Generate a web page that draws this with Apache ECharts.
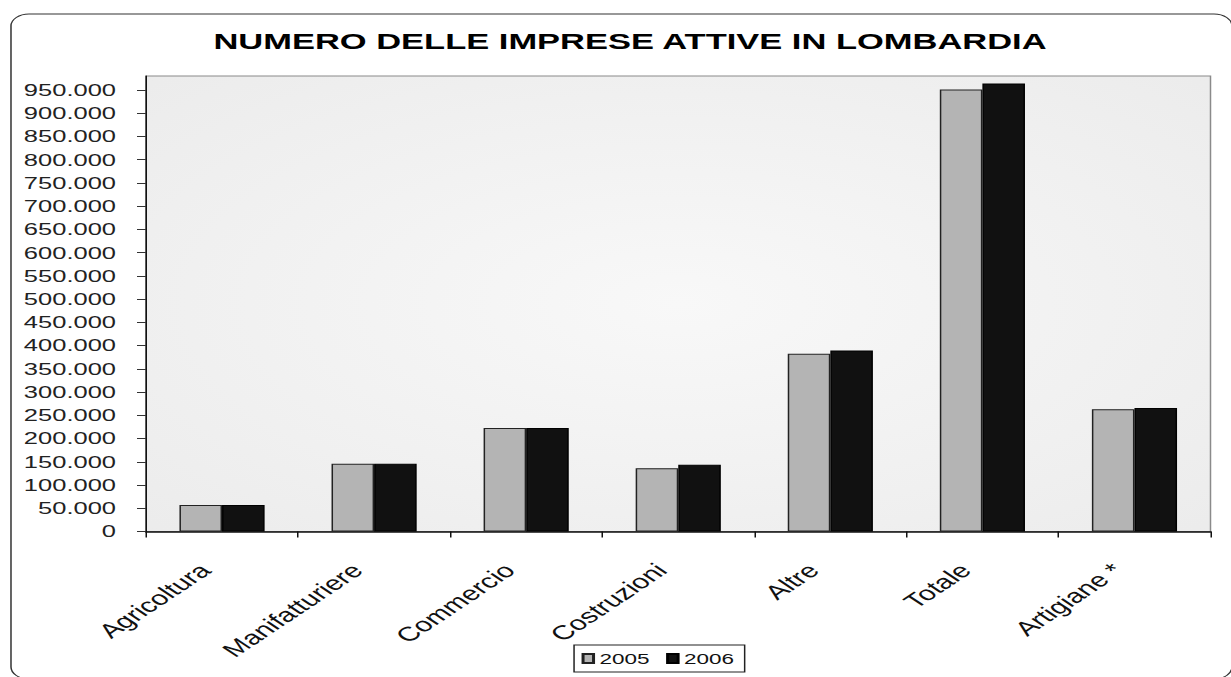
<!DOCTYPE html>
<html>
<head>
<meta charset="utf-8">
<script src="https://cdn.jsdelivr.net/npm/echarts@6/dist/echarts.min.js"></script>
<style>
  html, body { margin: 0; padding: 0; background: #fff; overflow: hidden; }
  /* the chart is laid out on a narrower canvas and widened horizontally */
  #wrap { width: 1231px; height: 677px; overflow: hidden; }
  #chart { width: 820.67px; height: 677px; transform: scaleX(1.5); transform-origin: 0 0; }
</style>
</head>
<body>
<div id="wrap"><div id="chart"></div></div>
<script>
// Imprese attive per settore
const categories = ['Agricoltura', 'Manifatturiere', 'Commercio', 'Costruzioni', 'Altre', 'Totale', 'Artigiane *'];
const values2005 = [57000, 146000, 222500, 136000, 382500, 951000, 263000];
const values2006 = [57000, 146000, 222500, 143500, 389500, 964000, 265500];
const seriesNames = ['2005', '2006'];
const titleText = 'NUMERO DELLE IMPRESE ATTIVE IN LOMBARDIA';

const FONT = '"Liberation Sans", Arial, sans-serif';

function itNumber(v) {
  const s = String(Math.round(v));
  return s.replace(/\B(?=(\d{3})+(?!\d))/g, '.');
}

const chart = echarts.init(document.getElementById('chart'), null, { renderer: 'svg' });

chart.setOption({
  animation: false,
  backgroundColor: '#ffffff',
  title: {
    text: titleText,
    left: 415,
    top: 24,
    textAlign: 'center',
    textStyle: { fontFamily: FONT, fontSize: 23, fontWeight: 'bold', color: '#000' }
  },
  graphic: [{
    type: 'rect',
    shape: { x: 7.33, y: 14, width: 814, height: 665, r: 12 },
    style: { fill: 'none', stroke: '#333', lineWidth: 1 },
    silent: true
  }],
  legend: {
    data: seriesNames,
    left: 382.7,
    top: 645,
    orient: 'horizontal',
    padding: [6, 7, 6, 5],
    itemGap: 11,
    itemWidth: 7,
    itemHeight: 9,
    icon: 'rect',
    borderColor: '#222',
    borderWidth: 1,
    textStyle: { fontFamily: FONT, fontSize: 15, color: '#111', padding: [0, 0, 0, -1] }
  },
  grid: {
    left: 97.33,
    right: 14,
    top: 76,
    bottom: 145.5,
    show: true,
    borderColor: '#8a8a8a',
    borderWidth: 1,
    backgroundColor: {
      type: 'radial', x: 0.5, y: 0.5, r: 0.75,
      colorStops: [
        { offset: 0, color: '#f8f8f8' },
        { offset: 1, color: '#ebebeb' }
      ]
    }
  },
  xAxis: {
    type: 'category',
    data: categories,
    boundaryGap: true,
    axisLine: { show: true, lineStyle: { color: '#111', width: 1.5 } },
    axisTick: { show: true, interval: 0, length: 6, lineStyle: { color: '#111', width: 1 } },
    axisLabel: {
      interval: 0,
      rotate: 45,
      margin: 24,
      padding: [0, 16, 0, 0],
      fontFamily: FONT,
      fontSize: 20,
      color: '#111'
    },
    splitLine: { show: false }
  },
  yAxis: {
    type: 'value',
    min: 0,
    max: 980000,
    interval: 50000,
    axisLine: { show: true, lineStyle: { color: '#111', width: 1 } },
    axisTick: { show: true, length: 6, lineStyle: { color: '#333', width: 1 } },
    axisLabel: {
      margin: 20,
      showMaxLabel: false,
      fontFamily: FONT,
      fontSize: 17,
      color: '#222',
      formatter: function (v) { return v % 50000 === 0 ? itNumber(v) : ''; }
    },
    splitLine: { show: false }
  },
  series: [
    {
      name: seriesNames[0],
      type: 'bar',
      data: values2005,
      barGap: '0%',
      barCategoryGap: '44%',
      itemStyle: { color: '#b4b4b4', borderColor: '#222', borderWidth: 1 }
    },
    {
      name: seriesNames[1],
      type: 'bar',
      data: values2006,
      barGap: '0%',
      barCategoryGap: '44%',
      itemStyle: { color: '#111111', borderColor: '#000', borderWidth: 1 }
    }
  ]
});
</script>
</body>
</html>
